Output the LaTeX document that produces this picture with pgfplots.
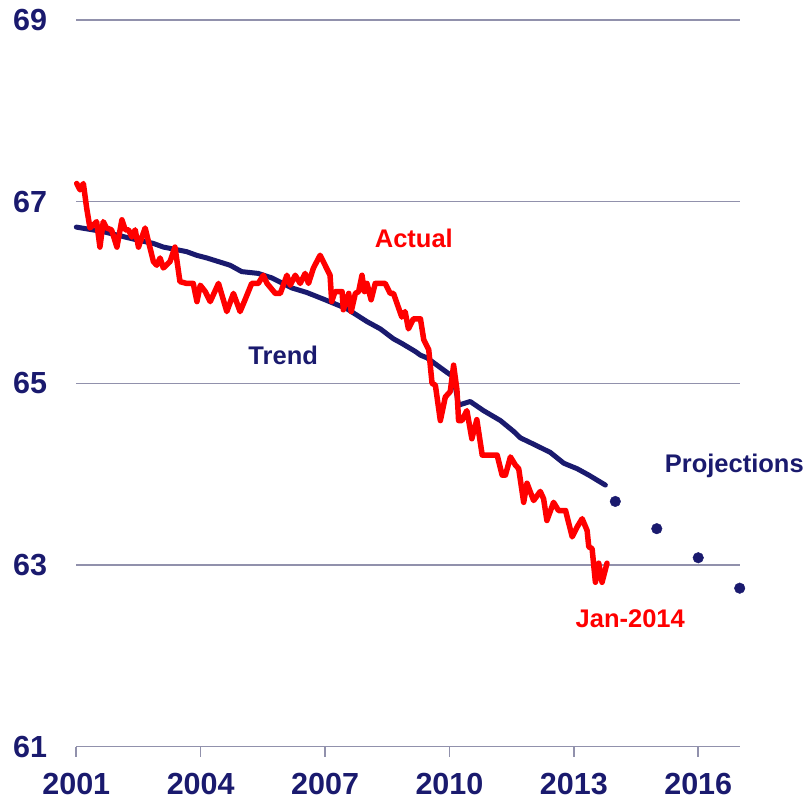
\documentclass[border=0pt]{standalone}
\usepackage{pgfplots}
\pgfplotsset{compat=1.18}
\usepackage{fontspec}
\setmainfont{Liberation Sans}
\definecolor{navy}{RGB}{26,26,110}
\definecolor{gridc}{RGB}{145,145,172}
\definecolor{actred}{RGB}{255,0,0}
\begin{document}
\begin{tikzpicture}
\begin{axis}[
 scale only axis, width=663.4bp, height=726.7bp,
 xmin=2001, xmax=2017, ymin=61, ymax=69,
 axis lines=left, axis line style={-, draw=gridc, line width=1.6bp},
 y axis line style={draw=none},
 xtick={2001,2004,2007,2010,2013,2016},
 ytick={61,63,65,67,69},
 ymajorgrids, grid style={draw=gridc, line width=1.6bp},
 tick align=outside, major tick length=10bp,
 xtick style={draw=gridc, line width=1.6bp},
 ytick style={draw=none},
 /pgf/number format/assume math mode=true,
 /pgf/number format/1000 sep={},
 ticklabel style={font=\fontsize{30.5bp}{34bp}\selectfont\bfseries, text=navy, inner sep=0pt},
 xticklabel style={yshift=-16bp},
 yticklabel style={xshift=-19bp},
 clip=false,
]
% Trend
\addplot[navy, line width=5bp, line join=round, line cap=round] coordinates {
(2001.00,66.72) (2001.65,66.67) (2002.45,66.58) (2002.86,66.54) (2003.10,66.50)
(2003.66,66.45) (2003.90,66.41) (2004.15,66.38) (2004.43,66.34) (2004.71,66.30)
(2004.99,66.23) (2005.39,66.21) (2005.72,66.16) (2006.20,66.05) (2006.56,66.00)
(2007.00,65.92) (2007.32,65.86) (2007.53,65.82) (2008.01,65.68) (2008.33,65.60)
(2008.65,65.49) (2008.85,65.44) (2009.18,65.35) (2009.30,65.31) (2009.46,65.28)
(2009.94,65.12) (2010.10,65.07) (2010.22,64.76) (2010.50,64.80) (2010.82,64.70)
(2011.23,64.59) (2011.55,64.47) (2011.71,64.40) (2012.03,64.33) (2012.43,64.24)
(2012.76,64.12) (2013.08,64.06) (2013.36,63.99) (2013.76,63.88)
};
% Actual
\addplot[actred, line width=5.5bp, line join=round, line cap=round] coordinates {
(2001.01,67.20) (2001.09,67.13) (2001.17,67.20) (2001.25,66.93) (2001.33,66.71)
(2001.49,66.78) (2001.57,66.50) (2001.65,66.78) (2001.73,66.71) (2001.85,66.69)
(2001.98,66.50) (2002.10,66.80) (2002.18,66.69) (2002.26,66.69) (2002.34,66.61)
(2002.42,66.69) (2002.50,66.50) (2002.66,66.71) (2002.86,66.34) (2002.94,66.30)
(2003.02,66.38) (2003.10,66.27) (2003.26,66.34) (2003.38,66.50) (2003.50,66.12)
(2003.66,66.10) (2003.82,66.10) (2003.91,65.90) (2003.99,66.08) (2004.11,66.01)
(2004.23,65.90) (2004.43,66.10) (2004.63,65.79) (2004.79,65.99) (2004.95,65.79)
(2005.07,65.92) (2005.23,66.10) (2005.39,66.10) (2005.51,66.19) (2005.60,66.10)
(2005.80,65.99) (2005.92,65.99) (2006.08,66.19) (2006.16,66.08) (2006.28,66.19)
(2006.40,66.10) (2006.52,66.21) (2006.60,66.10) (2006.72,66.27) (2006.88,66.41)
(2007.12,66.19) (2007.16,65.90) (2007.24,66.01) (2007.41,66.01) (2007.44,65.81)
(2007.57,65.99) (2007.63,65.79) (2007.73,65.99) (2007.81,66.01) (2007.89,66.19)
(2007.95,66.01) (2008.01,66.10) (2008.11,65.92) (2008.21,66.10) (2008.45,66.10)
(2008.57,65.99) (2008.65,65.99) (2008.85,65.73) (2008.93,65.79) (2009.01,65.60)
(2009.13,65.71) (2009.30,65.71) (2009.38,65.48) (2009.50,65.37) (2009.58,65.00)
(2009.66,64.98) (2009.78,64.59) (2009.90,64.85) (2010.02,64.91) (2010.10,65.20)
(2010.18,64.93) (2010.22,64.59) (2010.30,64.59) (2010.42,64.70) (2010.54,64.39)
(2010.66,64.60) (2010.79,64.21) (2010.91,64.21) (2011.15,64.21) (2011.27,63.99)
(2011.35,63.99) (2011.47,64.19) (2011.59,64.10) (2011.67,64.06) (2011.79,63.69)
(2011.87,63.90) (2012.03,63.71) (2012.19,63.81) (2012.27,63.73) (2012.35,63.49)
(2012.51,63.69) (2012.63,63.60) (2012.80,63.60) (2012.96,63.31) (2013.08,63.42)
(2013.20,63.51) (2013.32,63.38) (2013.36,63.20) (2013.44,63.18) (2013.52,62.81)
(2013.60,63.02) (2013.68,62.81) (2013.80,63.02)
};
% Projections
\addplot[only marks, mark=*, mark size=5.3bp, navy, mark options={fill=navy, draw=navy}] coordinates {
(2014,63.70) (2015,63.40) (2016,63.08) (2017,62.745)
};
\node[anchor=base, text=actred, font=\fontsize{25.5bp}{30bp}\selectfont\bfseries, inner sep=0pt] at (axis cs:2009.14,66.497) {Actual};
\node[anchor=base, text=navy, font=\fontsize{25.5bp}{30bp}\selectfont\bfseries, inner sep=0pt] at (axis cs:2005.99,65.21) {Trend};
\node[anchor=base, text=navy, font=\fontsize{25.5bp}{30bp}\selectfont\bfseries, inner sep=0pt] at (axis cs:2016.87,64.02) {Projections};
\node[anchor=base, text=actred, font=\fontsize{25.5bp}{30bp}\selectfont\bfseries, inner sep=0pt] at (axis cs:2014.36,62.315) {Jan-2014};
\end{axis}
\pgfresetboundingbox
\path[use as bounding box] ([shift={(-76.3bp,-53.3bp)}]current axis.south west) rectangle ([shift={(68.3bp,20bp)}]current axis.north east);
\end{tikzpicture}
\end{document}
